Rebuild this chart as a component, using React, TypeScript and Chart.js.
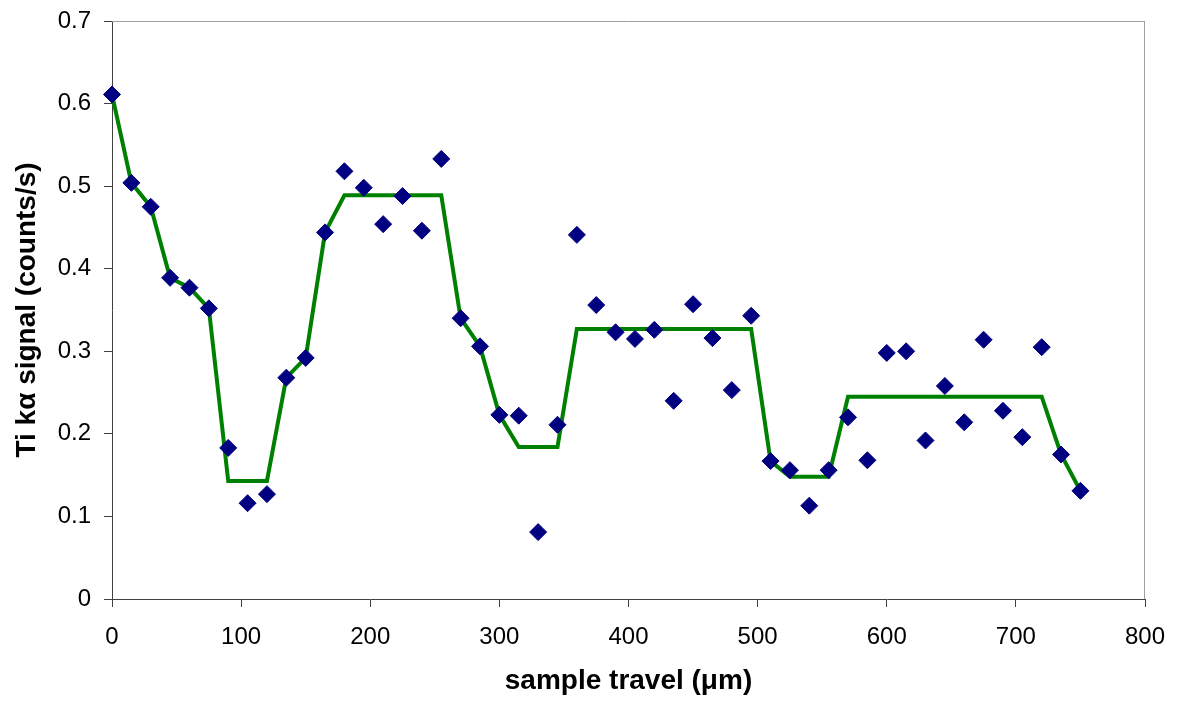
import React, { useEffect, useRef } from "react";
import { Chart, registerables } from "chart.js";

Chart.register(...registerables);

const travel = [0, 15, 30, 45, 60, 75, 90, 105, 120, 135, 150, 165, 180, 195, 210, 225, 240, 255, 270, 285, 300, 315, 330, 345, 360, 375, 390, 405, 420, 435, 450, 465, 480, 495, 510, 525, 540, 555, 570, 585, 600, 615, 630, 645, 660, 675, 690, 705, 720, 735, 750];
const signal = [0.611, 0.504, 0.475, 0.389, 0.377, 0.352, 0.183, 0.116, 0.127, 0.268, 0.292, 0.444, 0.518, 0.498, 0.454, 0.488, 0.446, 0.533, 0.340, 0.306, 0.223, 0.222, 0.081, 0.211, 0.441, 0.356, 0.323, 0.315, 0.326, 0.240, 0.357, 0.316, 0.253, 0.343, 0.167, 0.156, 0.113, 0.156, 0.220, 0.168, 0.298, 0.300, 0.192, 0.258, 0.214, 0.314, 0.228, 0.196, 0.305, 0.175, 0.131];

const fitX = [0, 15, 30, 45, 60, 75, 90, 120, 135, 150, 165, 180, 255, 270, 285, 300, 315, 345, 360, 495, 510, 525, 555, 570, 720, 735, 750];
const fitY = [0.611, 0.504, 0.475, 0.389, 0.377, 0.352, 0.143, 0.143, 0.268, 0.292, 0.444, 0.489, 0.489, 0.340, 0.306, 0.223, 0.184, 0.184, 0.327, 0.327, 0.167, 0.148, 0.148, 0.245, 0.245, 0.175, 0.131];

const xTitle = "sample travel (μm)";
const yTitle = "Ti kα signal (counts/s)";

const FONT = "'Liberation Sans', Arial, sans-serif";

function zeroPad(s: any) {
  s.paddingTop = 0;
  s.paddingBottom = 0;
  s.paddingLeft = 0;
  s.paddingRight = 0;
}

export default function App() {
  const ref = useRef<HTMLCanvasElement | null>(null);
  useEffect(() => {
    if (!ref.current) return;
    const borderPlugin = {
      id: "plotBorder",
      beforeDatasetsDraw(chart: any) {
        const { ctx, chartArea } = chart;
        ctx.save();
        ctx.strokeStyle = "#a0a0a0";
        ctx.lineWidth = 1;
        ctx.beginPath();
        ctx.moveTo(chartArea.left, chartArea.top + 0.5);
        ctx.lineTo(chartArea.right, chartArea.top + 0.5);
        ctx.moveTo(chartArea.right - 0.5, chartArea.top);
        ctx.lineTo(chartArea.right - 0.5, chartArea.bottom);
        ctx.stroke();
        ctx.restore();
      },
    };
    const chart = new Chart(ref.current, {
      type: "scatter",
      data: {
        datasets: [
          {
            label: "data",
            data: travel.map((x, i) => ({ x, y: signal[i] })),
            pointStyle: "rectRot",
            pointRadius: 8.5,
            pointBackgroundColor: "#000080",
            pointBorderColor: "#000080",
            pointBorderWidth: 1,
            showLine: false,
            clip: false,
          },
          {
            label: "fit",
            data: fitX.map((x, i) => ({ x, y: fitY[i] })),
            showLine: true,
            borderColor: "#008000",
            borderWidth: 4,
            pointRadius: 0,
            tension: 0,
            clip: false,
          },
        ],
      },
      options: {
        animation: false,
        responsive: false,
        maintainAspectRatio: false,
        layout: { padding: { left: 0, top: 21, right: 34, bottom: 3 } },
        plugins: { legend: { display: false }, tooltip: { enabled: false } },
        scales: {
          x: {
            type: "linear",
            min: 0,
            max: 800,
            afterFit: (s: any) => { s.height = 100; zeroPad(s); },
            ticks: {
              stepSize: 100,
              color: "#000",
              padding: 16,
              font: { family: FONT, size: 24 },
            },
            grid: { drawOnChartArea: false, drawTicks: true, tickLength: 8, color: "#404040" },
            border: { color: "#404040", width: 1 },
            title: {
              display: true,
              text: xTitle,
              color: "#000",
              font: { family: FONT, size: 28, weight: "bold" },
              padding: { top: 0, bottom: 1 },
            },
          },
          y: {
            type: "linear",
            min: 0,
            max: 0.7,
            afterFit: (s: any) => { s.width = 112; zeroPad(s); },
            ticks: {
              stepSize: 0.1,
              color: "#000",
              padding: 13,
              font: { family: FONT, size: 24 },
              callback: (v: any) => (Number(v) === 0 ? "0" : Number(v).toFixed(1)),
            },
            grid: { drawOnChartArea: false, drawTicks: true, tickLength: 8, color: "#404040" },
            border: { color: "#404040", width: 1 },
            title: {
              display: true,
              text: yTitle,
              color: "#000",
              font: { family: FONT, size: 28, weight: "bold" },
              padding: { top: 10, bottom: 0 },
            },
          },
        },
      },
      plugins: [borderPlugin],
    });
    return () => chart.destroy();
  }, []);
  return (
    <div style={{ position: "fixed", left: 0, top: 0, width: 1179, height: 702, background: "#fff" }}>
      <canvas ref={ref} width={1179} height={702} style={{ width: 1179, height: 702 }} />
    </div>
  );
}
